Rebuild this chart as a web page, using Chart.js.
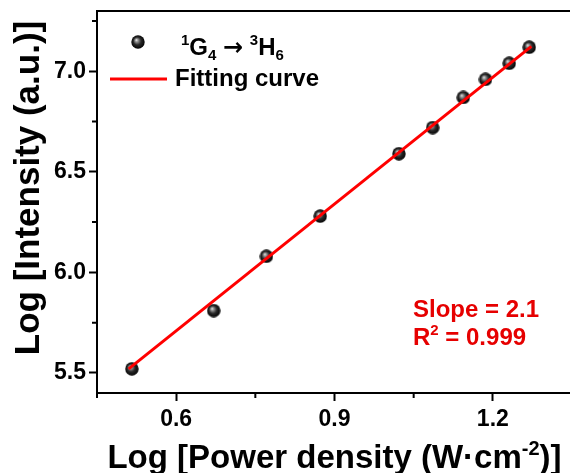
<!DOCTYPE html>
<html>
<head>
<meta charset="utf-8">
<script src="https://cdn.jsdelivr.net/npm/chart.js@4"></script>
<style>
  html, body { margin: 0; padding: 0; background: #fff; overflow: hidden; }
  #wrap { width: 580px; height: 473px; }
</style>
</head>
<body>
<div id="wrap"><canvas id="mycanvas" width="580" height="473"></canvas></div>
<script>
// measured points
var logPower = [0.516, 0.671, 0.771, 0.873, 1.022, 1.086, 1.144, 1.186, 1.231, 1.269];
var logIntensity = [5.52, 5.81, 6.08, 6.28, 6.59, 6.72, 6.87, 6.96, 7.04, 7.12];

// fitted line end points
var fitX = [0.51, 1.273];
var fitY = [5.52, 7.124];

var xTicks = [0.45, 0.6, 0.75, 0.9, 1.05, 1.2, 1.35];
var xMajor = [0.6, 0.9, 1.2];
var yTicks = [5.5, 5.75, 6.0, 6.25, 6.5, 6.75, 7.0, 7.25];
var yMajor = [5.5, 6.0, 6.5, 7.0];

var FONT = 'Liberation Sans, Arial, sans-serif';

function isMajor(list, v) {
  for (var i = 0; i < list.length; i++) {
    if (Math.abs(list[i] - v) < 1e-6) return true;
  }
  return false;
}

// shaded ball marker
function makeBall(r) {
  var c = document.createElement('canvas');
  c.width = r * 2; c.height = r * 2;
  var g = c.getContext('2d');
  var grad = g.createRadialGradient(r * 0.75, r * 0.7, 0, r, r, r);
  grad.addColorStop(0, '#f4f4f4');
  grad.addColorStop(0.2, '#9a9a9a');
  grad.addColorStop(0.55, '#2a2a2a');
  grad.addColorStop(1, '#000');
  g.fillStyle = grad;
  g.beginPath();
  g.arc(r, r, r - 0.3, 0, Math.PI * 2);
  g.fill();
  return c;
}
var ball = makeBall(7);

// draw text with super/subscripts, parts = [[text, 'sup'|'sub'|''|'sym']]
function partFont(p, size) {
  if (p[1] === 'sym') return 'bold ' + size + 'px DejaVu Sans, sans-serif';
  return 'bold ' + (p[1] ? Math.round(size * 0.62) : size) + 'px ' + FONT;
}
function drawRich(ctx, parts, x, y, size, align) {
  var w = 0;
  parts.forEach(function(p) {
    ctx.font = partFont(p, size);
    w += ctx.measureText(p[0]).width;
  });
  if (align === 'center') x -= w / 2;
  ctx.textAlign = 'left';
  ctx.textBaseline = 'alphabetic';
  parts.forEach(function(p) {
    var dy = p[1] === 'sup' ? -size * 0.4 : (p[1] === 'sub' ? size * 0.2 : 0);
    ctx.font = partFont(p, size);
    ctx.fillText(p[0], x, y + dy);
    x += ctx.measureText(p[0]).width;
  });
}

var extras = {
  id: 'extras',
  afterDraw: function(chart) {
    var ctx = chart.ctx;
    var a = chart.chartArea;
    var xs = chart.scales.x, ys = chart.scales.y;
    ctx.save();
    ctx.strokeStyle = '#000';
    ctx.lineWidth = 2;
    // top and right frame
    ctx.beginPath();
    ctx.moveTo(a.left - 1, a.top);
    ctx.lineTo(a.right, a.top);
    ctx.lineTo(a.right, a.bottom);
    ctx.stroke();
    // minor ticks
    ctx.beginPath();
    xTicks.forEach(function(v) {
      if (isMajor(xMajor, v)) return;
      var px = xs.getPixelForValue(v);
      ctx.moveTo(px, a.bottom);
      ctx.lineTo(px, a.bottom + 5);
    });
    yTicks.forEach(function(v) {
      if (isMajor(yMajor, v)) return;
      var py = ys.getPixelForValue(v);
      ctx.moveTo(a.left, py);
      ctx.lineTo(a.left - 5, py);
    });
    ctx.stroke();

    ctx.fillStyle = '#000';
    // axis titles
    drawRich(ctx, [['Log [Power density (W\u00b7cm', ''], ['-2', 'sup'], [')]', '']],
      (a.left + 570) / 2 + 1, 468, 33, 'center');
    ctx.save();
    ctx.translate(39, 188);
    ctx.rotate(-Math.PI / 2);
    drawRich(ctx, [['Log [Intensity (a.u.)]', '']], 0, 0, 35, 'center');
    ctx.restore();

    // legend
    ctx.drawImage(ball, 138 - 7, 42 - 7);
    drawRich(ctx, [['1', 'sup'], ['G', ''], ['4', 'sub'], [' ', ''], ['\u2192', 'sym'], [' ', ''], ['3', 'sup'], ['H', ''], ['6', 'sub']],
      181, 55, 24, 'left');
    ctx.strokeStyle = '#ff0000';
    ctx.lineWidth = 3;
    ctx.beginPath();
    ctx.moveTo(110, 79);
    ctx.lineTo(167, 79);
    ctx.stroke();
    drawRich(ctx, [['Fitting curve', '']], 175, 86, 24, 'left');

    // fit result
    ctx.fillStyle = '#e60000';
    drawRich(ctx, [['Slope = 2.1', '']], 413, 317, 24, 'left');
    drawRich(ctx, [['R', ''], ['2', 'sup'], [' = 0.999', '']], 413, 345, 24, 'left');
    ctx.restore();
  }
};

var points = [];
for (var i in logPower) {
  points.push({ x: logPower[i], y: logIntensity[i] });
}
var fitLine = [];
for (var j in fitX) {
  fitLine.push({ x: fitX[j], y: fitY[j] });
}

var tickFont = { family: FONT, weight: 'bold', size: 23 };

var ctx = document.getElementById('mycanvas');
var chart = new Chart(ctx, {
  type: 'scatter',
  data: {
    datasets: [
      {
        label: 'Fitting curve',
        data: fitLine,
        showLine: true,
        borderColor: '#ff0000',
        borderWidth: 3,
        pointRadius: 0,
        order: 0
      },
      {
        label: '1G4 -> 3H6',
        data: points,
        pointStyle: ball,
        pointRadius: 7,
        order: 1
      }
    ]
  },
  options: {
    responsive: false,
    animation: false,
    layout: { padding: { top: 11, right: 5, left: 0, bottom: 0 } },
    plugins: { legend: { display: false }, tooltip: { enabled: false } },
    scales: {
      x: {
        type: 'linear',
        min: 0.45,
        max: 1.35,
        afterBuildTicks: function(s) {
          s.ticks = xTicks.map(function(v) { return { value: v }; });
        },
        afterFit: function(s) {
          s.height = 80;
          s.paddingLeft = 0; s.paddingRight = 0;
        },
        ticks: {
          font: tickFont,
          color: '#000',
          padding: 5,
          maxRotation: 0,
          autoSkip: false,
          callback: function(v) { return isMajor(xMajor, v) ? v.toFixed(1) : ''; }
        },
        grid: {
          drawOnChartArea: false,
          tickLength: 8,
          tickWidth: 2,
          tickColor: function(c) { return c.tick && isMajor(xMajor, c.tick.value) ? '#000' : 'rgba(0,0,0,0)'; }
        },
        border: { color: '#000', width: 2 }
      },
      y: {
        type: 'linear',
        min: 5.4,
        max: 7.3,
        afterBuildTicks: function(s) {
          s.ticks = yTicks.map(function(v) { return { value: v }; });
        },
        afterFit: function(s) {
          s.width = 97;
          s.paddingTop = 0; s.paddingBottom = 0;
        },
        ticks: {
          font: tickFont,
          color: '#000',
          padding: 3,
          autoSkip: false,
          callback: function(v) { return isMajor(yMajor, v) ? v.toFixed(1) : ''; }
        },
        grid: {
          drawOnChartArea: false,
          tickLength: 8,
          tickWidth: 2,
          tickColor: function(c) { return c.tick && isMajor(yMajor, c.tick.value) ? '#000' : 'rgba(0,0,0,0)'; }
        },
        border: { color: '#000', width: 2 }
      }
    }
  },
  plugins: [extras]
});
</script>
</body>
</html>
